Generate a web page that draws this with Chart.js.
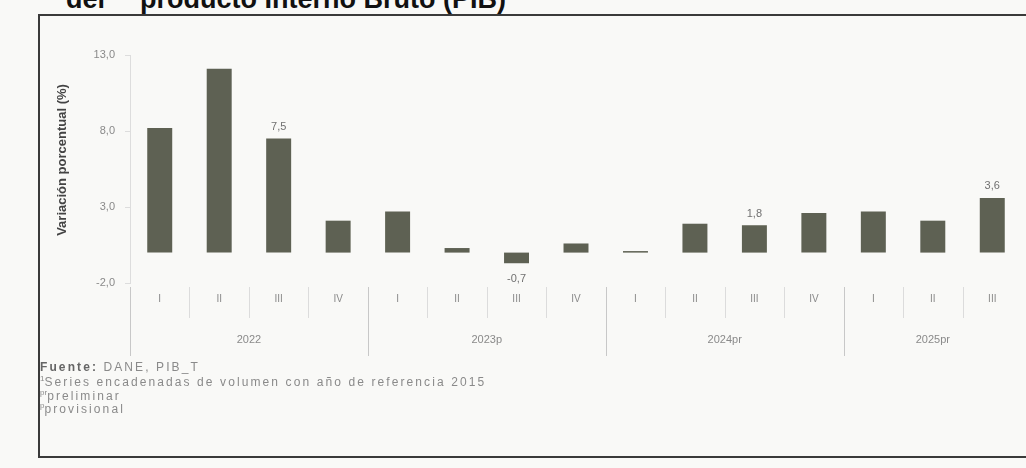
<!DOCTYPE html>
<html>
<head>
<meta charset="utf-8">
<script src="https://cdn.jsdelivr.net/npm/chart.js@4/dist/chart.umd.min.js"></script>
<style>
  html, body { margin: 0; padding: 0; background: #f9f9f7; overflow: hidden; }
  #page { position: relative; width: 1026px; height: 468px; font-family: "Liberation Sans", Arial, sans-serif; }
  .title { position: absolute; top: -16px; font-weight: bold; font-size: 27px; color: #111; white-space: nowrap; }
  #box { position: absolute; left: 38px; top: 14px; width: 1010px; height: 440px; border: 2px solid #3a3a3a; }
  #chart { position: absolute; left: 0; top: 0; }
  .note { position: absolute; left: 40px; font-size: 12px; color: #8a8a8a; white-space: nowrap; letter-spacing: 2.1px; }
  .note b { color: #666; }
  .note sup { font-size: 8px; letter-spacing: 0; }
</style>
</head>
<body>
<div id="page">
  <div class="title" style="left: 66px;">del</div>
  <div class="title" style="left: 140px;">producto Interno Bruto (PIB)</div>
  <div id="box"></div>
  <canvas id="chart" width="1026" height="468"></canvas>
  <div class="note" style="top: 360px;"><b>Fuente:</b> DANE, PIB_T</div>
  <div class="note" style="top: 374px;"><sup>1</sup>Series encadenadas de volumen con año de referencia 2015</div>
  <div class="note" style="top: 388px;"><sup>pr</sup>preliminar</div>
  <div class="note" style="top: 401px;"><sup>p</sup>provisional</div>
</div>
<script>
// quarterly growth, % (annual variation)
var quarters = ['I', 'II', 'III', 'IV', 'I', 'II', 'III', 'IV', 'I', 'II', 'III', 'IV', 'I', 'II', 'III'];
var years    = ['2022', '2023p', '2024pr', '2025pr'];
var yearSize = [4, 4, 4, 3];
var growth   = [8.2, 12.1, 7.5, 2.1, 2.7, 0.3, -0.7, 0.6, 0.1, 1.9, 1.8, 2.6, 2.7, 2.1, 3.6];
var labelled = [2, 6, 10, 14];
var yTicks   = [-2, 3, 8, 13];

function fmt(v) { return v.toFixed(1).replace('.', ','); }

var extras = {
  id: 'extras',
  afterDatasetsDraw: function (chart) {
    var ctx = chart.ctx, x = chart.scales.x;
    var meta = chart.getDatasetMeta(0);
    var step = x.getPixelForValue(1) - x.getPixelForValue(0);
    ctx.save();

    // value labels
    ctx.font = '11px "Liberation Sans", Arial';
    ctx.fillStyle = '#707070';
    ctx.textAlign = 'center';
    labelled.forEach(function (i) {
      var bar = meta.data[i], v = growth[i];
      ctx.textBaseline = v < 0 ? 'top' : 'bottom';
      ctx.fillText(fmt(v), bar.x, v < 0 ? bar.y + 10 : bar.y - 6);
    });

    // quarter labels and separators
    ctx.strokeStyle = '#dcdcdc';
    ctx.lineWidth = 1;
    ctx.font = '10px "Liberation Sans", Arial';
    ctx.fillStyle = '#8a8a8a';
    ctx.textBaseline = 'middle';
    quarters.forEach(function (q, i) {
      var cx = x.getPixelForValue(i);
      ctx.fillText(q, cx, 299);
      ctx.beginPath();
      ctx.moveTo(Math.round(cx - step / 2) + 0.5, 287);
      ctx.lineTo(Math.round(cx - step / 2) + 0.5, 318);
      ctx.stroke();
    });

    // year labels and group separators
    var start = 0;
    ctx.strokeStyle = '#c8c8c8';
    ctx.font = '11px "Liberation Sans", Arial';
    years.forEach(function (yr, k) {
      var end = start + yearSize[k] - 1;
      var cx = (x.getPixelForValue(start) + x.getPixelForValue(end)) / 2;
      ctx.fillText(yr, cx, 340);
      var sx = Math.round(x.getPixelForValue(start) - step / 2) + 0.5;
      ctx.beginPath();
      ctx.moveTo(sx, 287);
      ctx.lineTo(sx, 356);
      ctx.stroke();
      start = end + 1;
    });

    // y axis title
    ctx.translate(62, 160);
    ctx.rotate(-Math.PI / 2);
    ctx.font = 'bold 13px "Liberation Sans", Arial';
    ctx.fillStyle = '#444';
    ctx.fillText('Variación porcentual (%)', 0, 0);
    ctx.restore();
  }
};

new Chart(document.getElementById('chart'), {
  type: 'bar',
  data: {
    labels: quarters,
    datasets: [{
      data: growth,
      backgroundColor: '#5e6153',
      barPercentage: 0.42,
      categoryPercentage: 1
    }]
  },
  options: {
    responsive: false,
    animation: false,
    layout: { padding: { left: 50, right: 4, top: 55, bottom: 185 } },
    plugins: { legend: { display: false }, tooltip: { enabled: false } },
    scales: {
      x: { display: false },
      y: {
        min: -2, max: 13,
        afterFit: function (s) { s.width = 80; },
        afterBuildTicks: function (s) { s.ticks = yTicks.map(function (v) { return { value: v }; }); },
        ticks: {
          callback: function (v) { return fmt(v); },
          color: '#8a8a8a',
          padding: 10,
          font: { size: 11, family: '"Liberation Sans", Arial' }
        },
        border: { display: true, color: '#dddddd' },
        grid: {
          drawOnChartArea: true,
          tickLength: 5,
          color: function (c) { return c.tick && c.tick.value === 0 ? '#b8b8b8' : 'rgba(0,0,0,0)'; },
          tickColor: '#dddddd'
        }
      }
    }
  },
  plugins: [extras]
});
</script>
</body>
</html>
